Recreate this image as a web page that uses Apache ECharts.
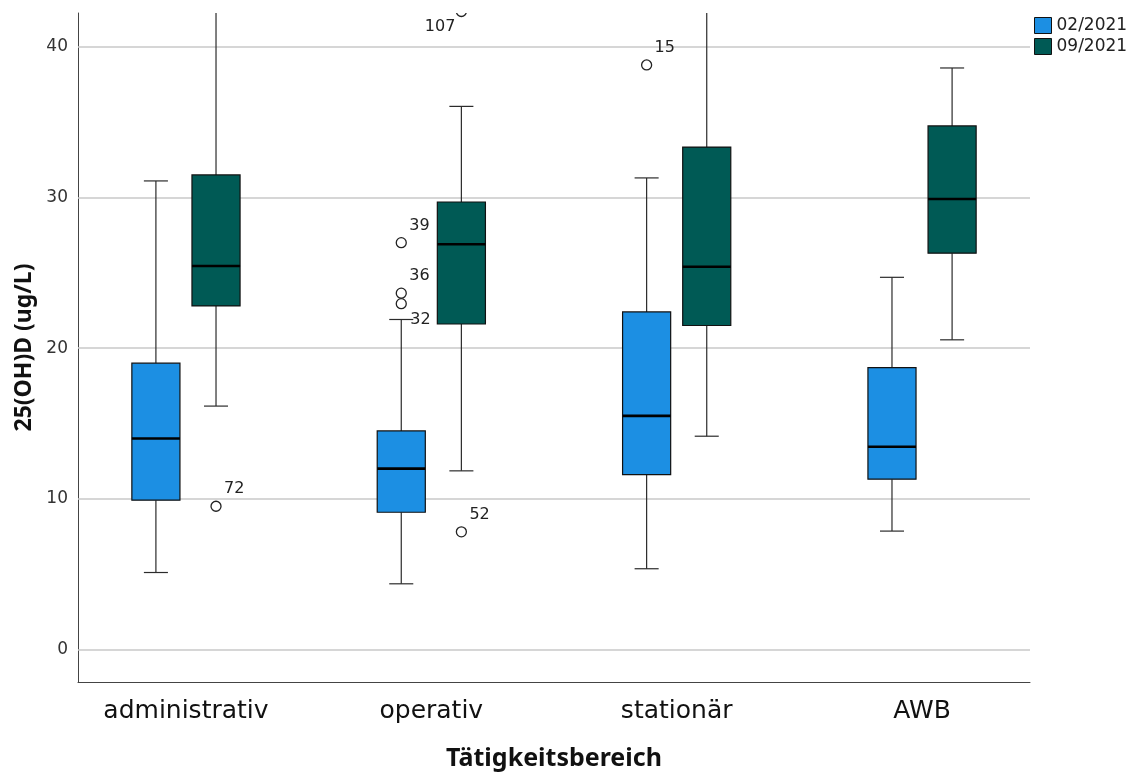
<!DOCTYPE html>
<html><head><meta charset="utf-8">
<script src="https://cdn.jsdelivr.net/npm/echarts@6/dist/echarts.min.js"></script>
<style>html,body{margin:0;padding:0;background:#fff}#c{width:1137px;height:776px}</style>
</head><body><div id="c"></div>
<script>
const categories = ['administrativ', 'operativ', 'stationär', 'AWB'];
const seriesNames = ['02/2021', '09/2021'];
// each box: [min whisker, Q1, median, Q3, max whisker]
const box022021 = [[5.1, 9.9, 14.0, 19.0, 31.1], [4.35, 9.1, 12.0, 14.5, 21.9], [5.35, 11.6, 15.5, 22.4, 31.3], [7.85, 11.3, 13.45, 18.7, 24.7]];
const box092021 = [[16.15, 22.8, 25.45, 31.5, 42.3], [11.85, 21.6, 26.9, 29.7, 36.05], [14.15, 21.5, 25.4, 33.35, 42.3], [20.55, 26.3, 29.9, 34.75, 38.6]];
// outliers: [category index, value, case label]
const outliers022021 = [[1, 27.0, '39'], [1, 23.65, '36'], [1, 22.95, '32'], [2, 38.8, '15']];
const outliers092021 = [[0, 9.5, '72'], [1, 42.35, '107'], [1, 7.8, '52']];
const yTicks = [0, 10, 20, 30, 40];

const colors = ['#1c8fe3', '#005a55'];
const SIDE_OFF = 0.1225, BOX_W = 0.196, CAP_W = 0.098;
// label placement (style only): [dx, dy, align]
const labelPlace = { '32': [9, 16, 'left'], '107': [-6, 15, 'right'] };
const defPlace = [8, -17, 'left'];

function boxRender(side, color) {
  return function (params, api) {
    const cat = api.value(0);
    const unit = api.size([1, 0])[0];
    const cx = api.coord([cat, 0])[0] + side * SIDE_OFF * unit;
    const w = BOX_W * unit, cap = CAP_W * unit;
    const y = i => api.coord([cat, api.value(i)])[1];
    const yMin = y(1), yQ1 = y(2), yMed = y(3), yQ3 = y(4), yMax = y(5);
    const line = (x1, y1, x2, y2, st) => ({ type: 'line', shape: { x1, y1, x2, y2 }, style: st });
    const ws = { stroke: '#2b2b2b', lineWidth: 1.2 };
    return {
      type: 'group', children: [
        line(cx, yMax, cx, yQ3, ws), line(cx, yQ1, cx, yMin, ws),
        line(cx - cap / 2, yMax, cx + cap / 2, yMax, ws), line(cx - cap / 2, yMin, cx + cap / 2, yMin, ws),
        { type: 'rect', shape: { x: cx - w / 2, y: yQ3, width: w, height: yQ1 - yQ3 }, style: { fill: color, stroke: '#111', lineWidth: 1.2 } },
        line(cx - w / 2, yMed, cx + w / 2, yMed, { stroke: '#000', lineWidth: 2.6 })
      ]
    };
  };
}
function outRender(side, arr) {
  return function (params, api) {
    const d = arr[params.dataIndex];
    const unit = api.size([1, 0])[0];
    const p = api.coord([d[0], d[1]]);
    const cx = p[0] + side * SIDE_OFF * unit, cy = p[1];
    const pl = labelPlace[d[2]] || defPlace;
    return {
      type: 'group', children: [
        { type: 'circle', shape: { cx, cy, r: 5 }, style: { fill: '#fff', stroke: '#222', lineWidth: 1.3 } },
        { type: 'text', x: cx + pl[0], y: cy + pl[1], style: { text: d[2], align: pl[2], verticalAlign: 'middle', fill: '#222', font: '16px "DejaVu Sans"' } }
      ]
    };
  };
}

const chart = echarts.init(document.getElementById('c'), null, { renderer: 'canvas' });
chart.setOption({
  animation: false,
  backgroundColor: '#fff',
  textStyle: { fontFamily: 'DejaVu Sans' },
  grid: { left: 78, right: 107, top: 13, bottom: 89 },
  legend: {
    orient: 'vertical', left: 1029, top: 12, itemWidth: 17, itemHeight: 16, itemGap: 4, icon: 'rect',
    selectedMode: false, data: seriesNames,
    itemStyle: { borderColor: '#111', borderWidth: 1 },
    textStyle: { fontSize: 17, color: '#222', fontFamily: 'DejaVu Sans' }
  },
  xAxis: {
    type: 'value', min: -0.44, max: 3.44,
    axisLine: { show: true, onZero: false, lineStyle: { color: '#444', width: 1 } },
    axisTick: { show: false }, splitLine: { show: false },
    axisLabel: { customValues: [0, 1, 2, 3], formatter: v => categories[Math.round(v)] || '', fontSize: 25, color: '#111', margin: 17 },
    name: 'Tätigkeitsbereich', nameLocation: 'middle', nameGap: 64,
    nameTextStyle: { fontSize: 25, fontWeight: 'bold', color: '#111', fontFamily: 'Noto Sans' }
  },
  yAxis: {
    type: 'value', min: -2.17, max: 42.25,
    axisLine: { show: true, onZero: false, lineStyle: { color: '#444', width: 1 } },
    axisTick: { show: false }, splitLine: { show: false },
    axisLabel: { customValues: yTicks, fontSize: 17, color: '#333', margin: 10 },
    name: '25(OH)D (ug/L)', nameLocation: 'middle', nameGap: 41,
    nameTextStyle: { fontSize: 23, fontWeight: 'bold', color: '#111', fontFamily: 'Noto Sans' }
  },
  series: [
    {
      name: seriesNames[0], type: 'custom', z: 3, clip: true, itemStyle: { color: colors[0] },
      renderItem: boxRender(-1, colors[0]), encode: { x: 0, y: [1, 2, 3, 4, 5] },
      data: box022021.map((b, i) => [i].concat(b)),
      markLine: {
        silent: true, z: 1, symbol: 'none', label: { show: false },
        lineStyle: { color: '#c8c8c8', type: 'solid', width: 1.5 },
        data: yTicks.map(v => ({ yAxis: v }))
      }
    },
    {
      name: seriesNames[1], type: 'custom', z: 3, clip: true, itemStyle: { color: colors[1] },
      renderItem: boxRender(1, colors[1]), encode: { x: 0, y: [1, 2, 3, 4, 5] },
      data: box092021.map((b, i) => [i].concat(b))
    },
    {
      name: 'out1', type: 'custom', z: 4, clip: true,
      renderItem: outRender(-1, outliers022021), encode: { x: 0, y: 1 },
      data: outliers022021.map(o => [o[0], o[1]])
    },
    {
      name: 'out2', type: 'custom', z: 4, clip: true,
      renderItem: outRender(1, outliers092021), encode: { x: 0, y: 1 },
      data: outliers092021.map(o => [o[0], o[1]])
    }
  ]
});
</script></body></html>
